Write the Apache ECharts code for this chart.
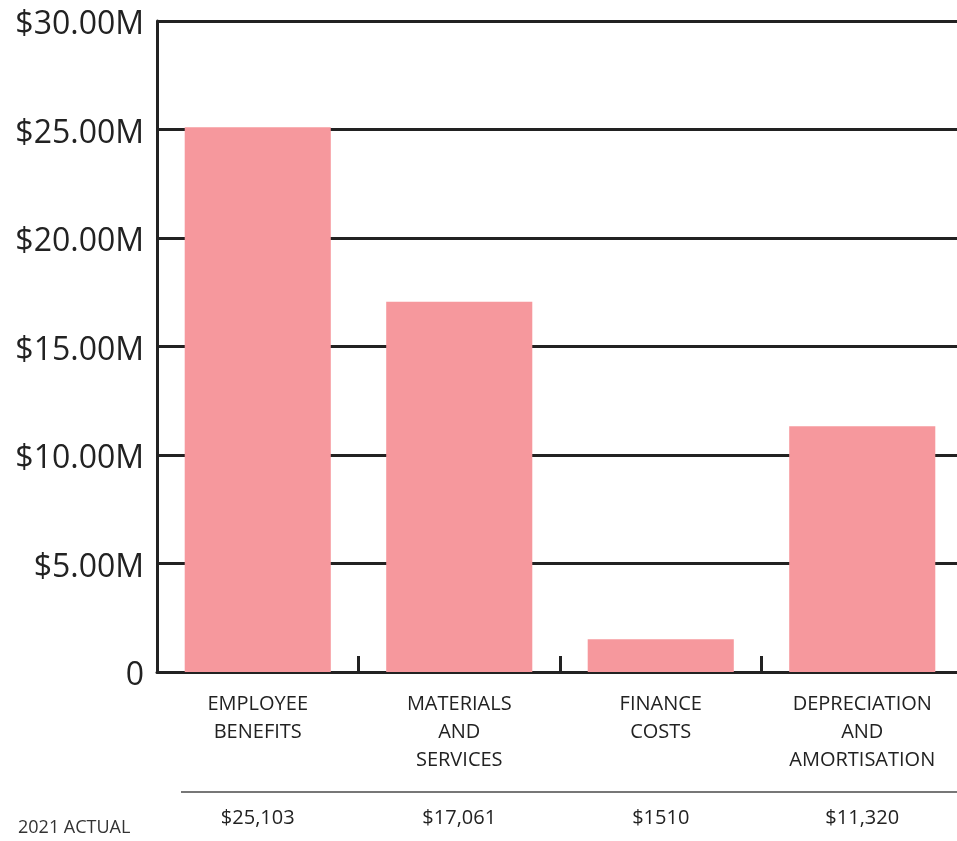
<!DOCTYPE html>
<html>
<head>
<meta charset="utf-8">
<script src="https://cdn.jsdelivr.net/npm/echarts@6/dist/echarts.min.js"></script>
<style>
  html, body { margin: 0; padding: 0; background: #fff; }
  #chart { width: 957px; height: 841px; }
</style>
</head>
<body>
<div id="chart"></div>
<script>
// Expense categories (label lines separated by \n)
const categories = [
  'EMPLOYEE\nBENEFITS',
  'MATERIALS\nAND\nSERVICES',
  'FINANCE\nCOSTS',
  'DEPRECIATION\nAND\nAMORTISATION'
];
// 2021 actual amounts, in $ thousands
const actual2021 = [25103, 17061, 1510, 11320];
// Value axis ticks (dollars)
const yTicks = [0, 5e6, 10e6, 15e6, 20e6, 25e6, 30e6];

const barColor = '#F6989D';
const ink = '#222222';

function fmtAxis(v) {
  const s = v === 0 ? '0' : '$' + (v / 1e6).toFixed(2) + 'M';
  return '{v|' + s + '}';
}
function fmtThousands(v) {
  return '$' + (v >= 10000 ? v.toLocaleString('en-US') : String(v));
}

const chart = echarts.init(document.getElementById('chart'), null, { renderer: 'canvas' });

chart.setOption({
  animation: false,
  backgroundColor: '#ffffff',
  // plot runs slightly past the right edge of the canvas
  grid: {
    left: 157, width: 806, top: 21, bottom: 169,
    containLabel: false,
    outerBoundsMode: 'none'
  },
  xAxis: [
    {
      type: 'category',
      data: categories,
      axisLine: { show: true, lineStyle: { color: ink, width: 3 } },
      axisTick: { show: true, inside: true, length: 16, lineStyle: { color: ink, width: 3 } },
      axisLabel: {
        margin: 18,
        fontFamily: 'Open Sans',
        fontSize: 20,
        lineHeight: 28,
        color: ink,
        align: 'center'
      }
    },
    {
      type: 'category',
      position: 'bottom',
      offset: 127,
      data: actual2021.map(fmtThousands),
      axisLine: { show: false },
      axisTick: { show: false },
      axisLabel: {
        margin: 8,
        fontFamily: 'Open Sans',
        fontSize: 20,
        lineHeight: 22,
        color: ink
      }
    }
  ],
  yAxis: {
    type: 'value',
    min: yTicks[0],
    max: yTicks[yTicks.length - 1],
    interval: yTicks[1] - yTicks[0],
    axisLine: { show: true, lineStyle: { color: ink, width: 3 } },
    axisTick: { show: false },
    splitLine: { show: true, lineStyle: { color: ink, width: 3 } },
    axisLabel: {
      margin: 13,
      formatter: fmtAxis,
      rich: {
        v: {
          fontFamily: 'Open Sans',
          fontSize: 32,
          color: ink,
          padding: [8, 0, 0, 0]
        }
      }
    }
  },
  series: [{
    type: 'bar',
    xAxisIndex: 0,
    data: actual2021.map(v => v * 1000),
    barWidth: '72.5%',
    itemStyle: { color: barColor },
    z: 3
  }],
  graphic: [
    {
      type: 'line',
      shape: { x1: 181, y1: 792, x2: 957, y2: 792 },
      style: { stroke: '#777777', lineWidth: 2 }
    },
    {
      type: 'text',
      left: 18,
      top: 819,
      style: { text: '2021 ACTUAL', fontFamily: 'Open Sans', fontSize: 18, fill: '#333333' }
    }
  ]
});
</script>
</body>
</html>
